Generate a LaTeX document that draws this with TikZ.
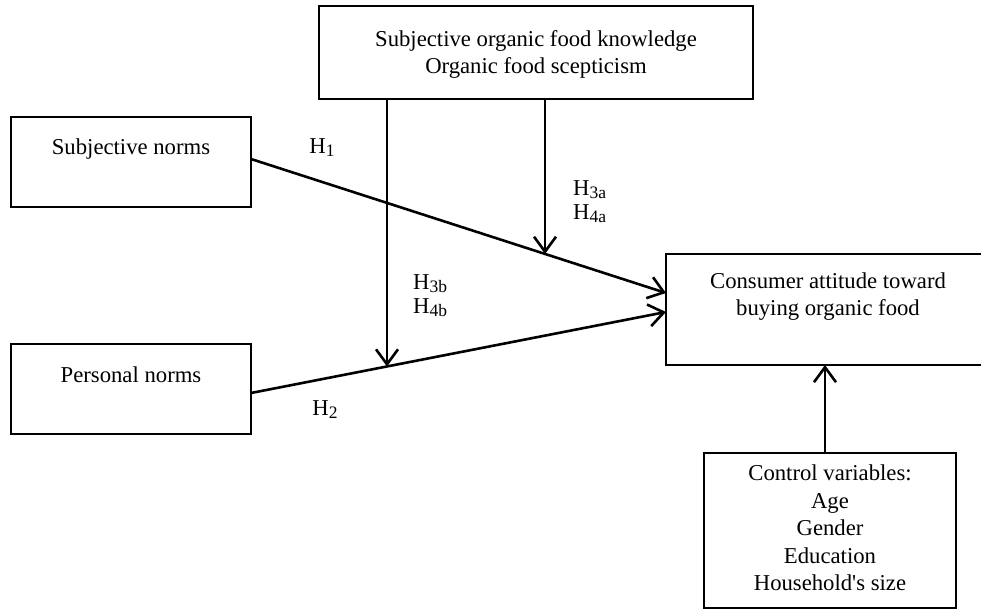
\documentclass[tikz,border=0pt]{standalone}
\usepackage{fontspec}
\setmainfont{Liberation Serif}
\usetikzlibrary{arrows.meta}
\newcommand{\Hsub}[1]{H\raisebox{-0.3ex}{\fontsize{17.5}{17.5}\selectfont #1}}
\begin{document}
\begin{tikzpicture}[x=1pt,y=-1pt,
  box/.style={draw,line width=1.8pt,inner sep=0pt},
  txt/.style={font=\fontsize{22.7}{27}\selectfont,align=center,inner sep=0pt},
  lbl/.style={font=\fontsize{22.7}{24}\selectfont,align=left,inner sep=0pt},
  conn/.style={line width=2.6pt,-{Straight Barb[length=15pt,width=22pt,line width=2.6pt]}},
  plain/.style={line width=2.6pt}]
\useasboundingbox (0,0) rectangle (981,609);
% boxes
\node[box,minimum width=434pt,minimum height=93pt] (tb) at (536,52.5) {};
\node[box,minimum width=240pt,minimum height=90pt] (sn) at (131,162) {};
\node[box,minimum width=240pt,minimum height=90pt] (pn) at (131,389) {};
\node[box,minimum width=324pt,minimum height=111pt] (ca) at (828,309.5) {};
\node[box,minimum width=252pt,minimum height=155pt] (cv) at (830,530.5) {};
% texts
\node[txt] (tbt) at (536,54.5) {Subjective organic food knowledge\\Organic food scepticism};
\node[txt] (snt) at (131,149) {Subjective norms};
\node[txt] (pnt) at (131,375) {Personal norms};
\node[txt] (cat) at (828,297) {Consumer attitude toward\\buying organic food};
\node[txt,font=\fontsize{22.7}{27.5}\selectfont] (cvt) at (830,528) {Control variables:\\Age\\Gender\\Education\\Household\textquotesingle s size};
% coordinates
\coordinate (sout) at (251,159);
\coordinate (pout) at (251,393);
\coordinate (cin1) at (666,293);
\coordinate (cin2) at (666,312);
\coordinate (m1) at (387,99);
\coordinate (m1t) at (387,366.5);
\coordinate (m2) at (545,99);
\coordinate (m2t) at (545,253.9);
\coordinate (c1) at (825,453);
\coordinate (c1t) at (825,365);
% connectors
\draw[conn] (sout) -- (cin1);
\draw[conn] (pout) -- (cin2);
\draw[conn] (m1) -- (m1t);
\draw[conn] (m2) -- (m2t);
\draw[conn] (c1) -- (c1t);
% labels
\node[lbl] (h1) at (322,148) {\Hsub{1}};
\node[lbl] (h2) at (325,410) {\Hsub{2}};
\node[lbl,anchor=west] (h3a) at (573,202) {\Hsub{3a}\\\Hsub{4a}};
\node[lbl,anchor=west] (h3b) at (413,296) {\Hsub{3b}\\\Hsub{4b}};
\end{tikzpicture}
\end{document}
